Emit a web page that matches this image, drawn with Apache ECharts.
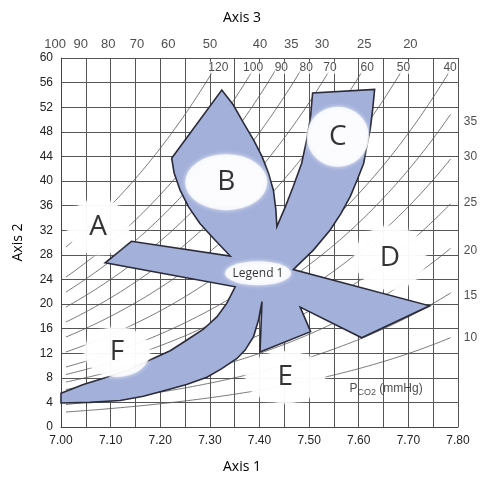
<!DOCTYPE html><html><head><meta charset="utf-8">
<script src="https://cdn.jsdelivr.net/npm/echarts@6/dist/echarts.min.js"></script>
<style>html,body{margin:0;padding:0;background:#fff}#c{width:484px;height:490px}</style></head>
<body><div id="c"></div><script>
const xTicks=[7.0,7.1,7.2,7.3,7.4,7.5,7.6,7.7,7.8];
const region=[[7.00,5.5],[7.045,6.9],[7.092,8.1],[7.139,9.4],[7.179,10.9],[7.220,12.4],[7.253,14.1],[7.287,15.9],[7.314,17.9],[7.334,20.1],[7.351,22.8],
[7.089,26.7],[7.142,30.2],[7.341,27.8],
[7.307,30.7],[7.280,33.1],[7.257,35.8],[7.240,38.5],[7.228,41.3],[7.223,43.7],[7.324,54.8],
[7.347,52.4],[7.368,49.4],[7.388,46.7],[7.405,44.0],[7.418,41.3],[7.428,38.5],[7.433,35.3],[7.435,32.6],
[7.452,35.8],[7.468,39.1],[7.485,42.9],[7.495,46.7],[7.503,50.5],[7.507,54.3],[7.632,54.9],
[7.628,51.6],[7.623,48.3],[7.616,45.6],[7.610,42.9],[7.597,40.2],[7.583,37.5],[7.564,34.7],[7.542,32.0],[7.509,28.8],[7.468,25.6],
[7.743,19.7],[7.606,14.5],[7.482,19.5],[7.503,15.5],[7.401,12.2],[7.405,20.4],
[7.398,17.4],[7.388,14.7],[7.371,12.5],[7.354,11.1],[7.324,9.5],[7.294,8.1],[7.253,6.9],[7.213,6.0],[7.166,5.0],[7.119,4.3],[7.058,4.0],[7.00,3.9]];
const isobarPCO2=[120,100,90,80,70,60,50,40,35,30,25,20,15,10];
const topOuterLabels=['100','90','80','70','60','50','40','35','30','25','20'];
const topOuterPH=[6.988,7.040,7.095,7.153,7.216,7.300,7.401,7.464,7.526,7.611,7.704];
const innerLabels=['120','100','90','80','70','60','50','40'];
const innerPH=[7.317,7.387,7.444,7.494,7.542,7.617,7.690,7.784];
const rightLabels=['35','30','25','20','15','10'];
const rightVal=[49.6,43.9,36.4,28.6,21.4,14.6];
const blobNames=['A','B','C','D','E','F','Legend 1'];
const blobPos=[[7.075,32.5],[7.333,39.8],[7.558,47.2],[7.663,27.5],[7.452,8.1],[7.113,12.2],[7.397,25.0]];
const blobSize=[[62,56],[82,56],[62,60],[72,64],[80,52],[66,50],[66,24]];

function isobar(p){const pts=[];for(let ph=7.01;ph<=7.785;ph+=0.005){const h=0.03*p*Math.pow(10,ph-6.1);if(h>58.5)break;pts.push([ph,h]);}return pts;}
const series=[];
isobarPCO2.forEach(p=>series.push({type:'line',data:isobar(p),showSymbol:false,silent:true,lineStyle:{color:'#555',width:0.8},z:2}));
series.push({type:'custom',z:3,renderItem:(params,api)=>({type:'polygon',shape:{points:region.map(d=>api.coord(d))},style:{fill:'#a3b0da',stroke:'#2b2b3a',lineWidth:1.6}}),data:[0]});
series.push({type:'scatter',z:5,silent:true,data:blobPos.map((p,i)=>({value:p,name:blobNames[i],symbolSize:blobSize[i]})),itemStyle:{color:'#fff',shadowBlur:4,shadowColor:'#fff'},
 label:{show:true,position:'inside',formatter:p=>p.name,color:'#000',fontFamily:'Open Sans',fontSize:28}});
series[series.length-1].data[6].label={fontSize:12};
series.push({type:'scatter',z:6,clip:false,silent:true,symbolSize:0,data:topOuterPH.map((x,i)=>({value:[x,62.2],name:topOuterLabels[i]})),label:{show:true,formatter:p=>p.name,color:'#222',fontSize:13,fontFamily:'Arial'}});
series.push({type:'scatter',z:6,clip:false,silent:true,symbolSize:0,data:innerPH.map((x,i)=>({value:[x,58.4],name:innerLabels[i]})),label:{show:true,formatter:p=>p.name,color:'#222',fontSize:12,fontFamily:'Arial',backgroundColor:'#fff'}});
series.push({type:'scatter',z:6,clip:false,silent:true,symbolSize:0,data:rightVal.map((y,i)=>({value:[7.825,y],name:rightLabels[i]})),label:{show:true,formatter:p=>p.name,color:'#222',fontSize:12,fontFamily:'Arial',backgroundColor:'#fff'}});
series.push({type:'scatter',z:6,silent:true,symbolSize:0,data:[{value:[7.655,6.3],name:'p'}],label:{show:true,formatter:'P{s|CO2} (mmHg)',rich:{s:{fontSize:9,verticalAlign:'bottom',padding:[8,0,0,0]}},color:'#222',fontSize:12,fontFamily:'Arial'}});
const ch=echarts.init(document.getElementById('c'));
ch.setOption({animation:false,
 grid:{left:61,right:26,top:58,bottom:63},
 title:[{text:'Axis 3',left:'center',top:6,textStyle:{fontSize:14,fontWeight:'normal',color:'#000',fontFamily:'Open Sans'}},
        {text:'Axis 1',left:'center',top:455,textStyle:{fontSize:14,fontWeight:'normal',color:'#000',fontFamily:'Open Sans'}}],
 xAxis:{type:'value',min:7.0,max:7.8,interval:0.05,axisLine:{lineStyle:{color:'#444'}},axisTick:{show:false},
  axisLabel:{color:'#222',fontSize:12,margin:8,formatter:v=>{const k=Math.round(v*100);return k%10===0?(k/100).toFixed(2):'';}},
  splitLine:{lineStyle:{color:'#555',width:1}}},
 yAxis:{type:'value',min:0,max:60,interval:4,name:'Axis 2',nameLocation:'middle',nameGap:36,nameTextStyle:{fontSize:14,color:'#000',fontFamily:'Open Sans'},
  axisLine:{show:true,lineStyle:{color:'#444'}},axisTick:{show:false},axisLabel:{color:'#222',fontSize:12},splitLine:{lineStyle:{color:'#555',width:1}}},
 series});
</script></body></html>
